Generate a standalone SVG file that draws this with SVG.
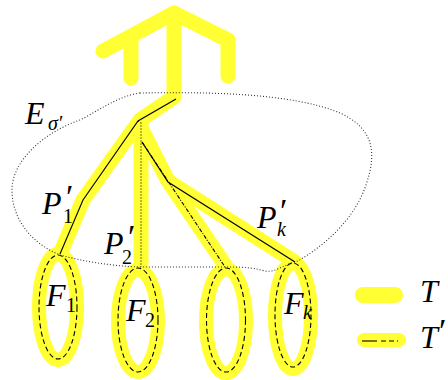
<svg xmlns="http://www.w3.org/2000/svg" width="448" height="380" viewBox="0 0 448 380">
<style>
.y{fill:none;stroke:#ffff33;stroke-width:15;stroke-linecap:round;stroke-linejoin:round}
.yo{fill:none;stroke:#ffff33;stroke-width:14}
.b{fill:none;stroke:#000;stroke-width:1.1}
.dash{fill:none;stroke:#000;stroke-width:1.1;stroke-dasharray:5 3}
.dot{fill:none;stroke:#333;stroke-width:1.1;stroke-dasharray:1 2}
.m{font-family:"Liberation Serif","DejaVu Serif",serif;font-style:italic;font-size:32px;fill:#000}
.p{font-style:normal;font-size:34px}
.s{font-style:normal;font-size:20px}
.si{font-style:italic;font-size:20px}
</style>
<g id="tree-T">
<path class="y" d="M103,51 L174,13 L228,40 L228,76"/>
<path class="y" d="M131,38 L131,78"/>
<path class="y" d="M174,13 L174,97 L140,120 L83,200 L60,254"/>
<path class="y" d="M141,120 L141,266"/>
<path class="y" d="M141,128 L168,181 L225,265"/>
<path class="y" d="M168,181 L295,262"/>
</g>
<g id="F1"><ellipse class="yo" cx="58" cy="307" rx="19" ry="53"/><ellipse class="dash" cx="58" cy="307" rx="19" ry="52"/></g>
<g id="F2"><ellipse class="yo" cx="138" cy="321" rx="20" ry="51"/><ellipse class="dash" cx="138" cy="320" rx="20" ry="52"/></g>
<g id="F3"><ellipse class="yo" cx="226" cy="321" rx="20" ry="52"/><ellipse class="dash" cx="226" cy="320" rx="19.5" ry="52"/></g>
<g id="Fk"><ellipse class="yo" cx="293" cy="316" rx="18" ry="53"/><ellipse class="dash" cx="293" cy="315" rx="18" ry="52"/></g>
<g id="E-sigma">
<path class="dot" d="M140,93 C200,92 290,92 340,113 C372,128 378,150 366,185 C354,220 325,245 298,261 C285,264 275,273 265,271 C250,267 240,267 225,267 L140,267 C110,266 82,261 60,255 C35,245 12,222 12,190 C12,160 45,132 80,120 C100,110 118,96 140,93 Z"/>
</g>
<g id="connectors">
<path class="b" d="M176,99 L138,121 L83,200 L60,254"/>
<path class="dot" d="M138,121 L141,123 L141,267" style="stroke:#000"/>
<path class="b" d="M142,142 L168,182 L295,262"/>
<path class="b" d="M142,142 L225,267" style="stroke-dasharray:4 1.5 1 1.5"/>
</g>
<g id="labels">
<text class="m" x="25" y="124">E<tspan class="si" x="48" y="130">σ′</tspan></text>
<text class="m" x="42" y="214">P<tspan class="p" x="66" y="208">′</tspan><tspan class="s" x="63" y="223">1</tspan></text>
<text class="m" x="104" y="254">P<tspan class="p" x="128" y="248">′</tspan><tspan class="s" x="122" y="264">2</tspan></text>
<text class="m" x="257" y="228">P<tspan class="p" x="280" y="222">′</tspan><tspan class="si" x="277" y="236">k</tspan></text>
<text class="m" x="46" y="306">F<tspan class="s" x="66" y="312">1</tspan></text>
<text class="m" x="126" y="321">F<tspan class="s" x="145" y="327">2</tspan></text>
<text class="m" x="284" y="314">F<tspan class="si" x="303" y="319">k</tspan></text>
</g>
<g id="legend">
<line x1="363" y1="295" x2="395" y2="295" stroke="#ffff33" stroke-width="16" stroke-linecap="round"/>
<line x1="364" y1="340" x2="399" y2="340" stroke="#ffff33" stroke-width="14" stroke-linecap="round"/>
<line x1="362" y1="341" x2="377" y2="341" stroke="#000" stroke-width="1.1"/>
<line x1="381" y1="341" x2="398" y2="341" stroke="#000" stroke-width="1.1" stroke-dasharray="5 3"/>
<text class="m" x="420" y="302">T</text>
<text class="m" x="420" y="348">T<tspan class="p" x="439" y="342">′</tspan></text>
</g>
</svg>
